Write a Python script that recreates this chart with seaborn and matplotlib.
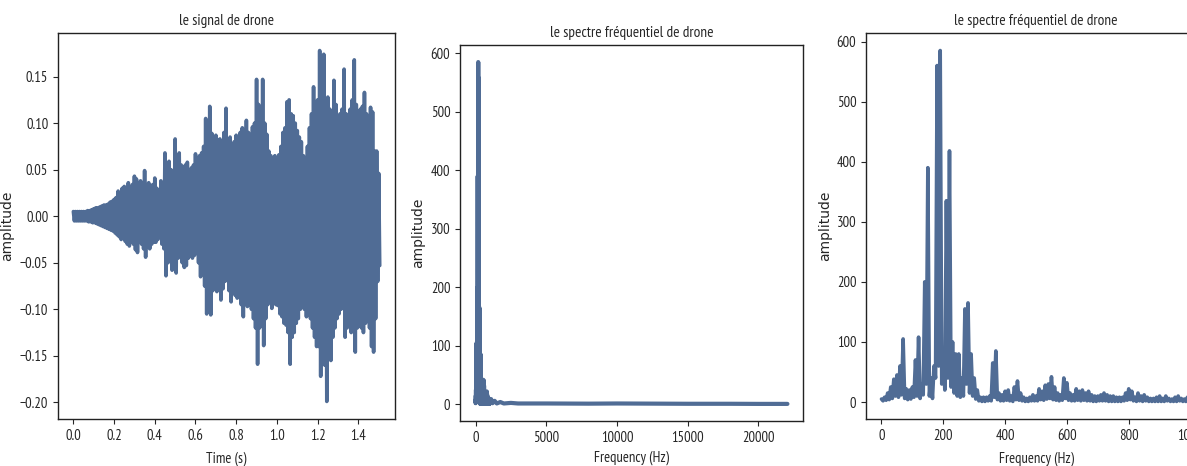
import numpy as np
import matplotlib
matplotlib.use("Agg")
import matplotlib.pyplot as plt
from matplotlib import font_manager
import seaborn as sns


# signal envelope, one value every 10 ms from 0.00 s to 1.50 s
signal_time = np.linspace(0.0, 1.5, 151)
signal_upper = [
    0.005, 0.005, 0.005, 0.005, 0.005, 0.005, 0.005, 0.006, 0.006, 0.007,
    0.008, 0.009, 0.009, 0.010, 0.011, 0.012, 0.012, 0.013, 0.015, 0.016,
    0.018, 0.020, 0.027, 0.024, 0.030, 0.032, 0.030, 0.036, 0.028, 0.034,
    0.043, 0.040, 0.030, 0.038, 0.025, 0.049, 0.033, 0.036, 0.030, 0.034,
    0.041, 0.030, 0.028, 0.038, 0.035, 0.068, 0.045, 0.059, 0.050, 0.044,
    0.083, 0.060, 0.068, 0.055, 0.050, 0.055, 0.058, 0.050, 0.052, 0.055,
    0.067, 0.060, 0.065, 0.068, 0.075, 0.105, 0.085, 0.118, 0.089, 0.080,
    0.087, 0.082, 0.083, 0.065, 0.090, 0.116, 0.078, 0.085, 0.070, 0.080,
    0.087, 0.082, 0.090, 0.095, 0.088, 0.103, 0.090, 0.085, 0.096, 0.100,
    0.147, 0.120, 0.090, 0.147, 0.100, 0.088, 0.070, 0.065, 0.060, 0.065,
    0.062, 0.066, 0.075, 0.090, 0.095, 0.123, 0.125, 0.110, 0.108, 0.100,
    0.092, 0.085, 0.080, 0.065, 0.046, 0.075, 0.095, 0.110, 0.139, 0.120,
    0.125, 0.178, 0.130, 0.174, 0.120, 0.128, 0.115, 0.110, 0.146, 0.120,
    0.090, 0.110, 0.115, 0.158, 0.110, 0.070, 0.115, 0.125, 0.168, 0.120,
    0.105, 0.115, 0.118, 0.133, 0.110, 0.095, 0.117, 0.112, 0.070, 0.070,
    0.046,
]
signal_lower = [
    -0.005, -0.005, -0.005, -0.005, -0.005, -0.005, -0.005, -0.006, -0.006, -0.007,
    -0.007, -0.008, -0.009, -0.010, -0.011, -0.012, -0.013, -0.014, -0.015, -0.016,
    -0.018, -0.020, -0.022, -0.025, -0.022, -0.027, -0.030, -0.032, -0.026, -0.030,
    -0.036, -0.039, -0.028, -0.030, -0.035, -0.044, -0.030, -0.035, -0.030, -0.028,
    -0.028, -0.025, -0.022, -0.030, -0.035, -0.064, -0.050, -0.045, -0.058, -0.048,
    -0.061, -0.045, -0.040, -0.050, -0.055, -0.053, -0.045, -0.040, -0.045, -0.042,
    -0.036, -0.050, -0.065, -0.060, -0.075, -0.105, -0.085, -0.106, -0.080, -0.075,
    -0.081, -0.075, -0.090, -0.078, -0.070, -0.068, -0.080, -0.092, -0.080, -0.085,
    -0.088, -0.080, -0.095, -0.108, -0.090, -0.097, -0.095, -0.100, -0.110, -0.120,
    -0.159, -0.120, -0.100, -0.139, -0.110, -0.095, -0.090, -0.099, -0.085, -0.095,
    -0.096, -0.105, -0.108, -0.115, -0.117, -0.125, -0.159, -0.130, -0.125, -0.115,
    -0.110, -0.100, -0.090, -0.100, -0.108, -0.105, -0.110, -0.120, -0.130, -0.140,
    -0.140, -0.172, -0.140, -0.160, -0.199, -0.145, -0.155, -0.130, -0.120, -0.110,
    -0.105, -0.100, -0.095, -0.130, -0.120, -0.110, -0.125, -0.118, -0.146, -0.120,
    -0.110, -0.120, -0.125, -0.115, -0.100, -0.120, -0.140, -0.146, -0.110, -0.070,
    -0.053,
]

# spectrum 0-1000 Hz: peaks every 10 Hz, troughs in between
spec_freq = np.linspace(0, 1000, 101)
spec_peak = [
    5, 8, 15, 25, 38, 45, 60, 105, 22, 20,
    25, 70, 108, 30, 200, 390, 40, 60, 560, 585,
    85, 335, 418, 100, 80, 80, 40, 155, 165, 80,
    40, 20, 8, 8, 8, 10, 65, 85, 15, 12,
    18, 20, 10, 25, 35, 15, 8, 6, 8, 12,
    10, 22, 18, 28, 30, 42, 25, 15, 12, 40,
    32, 15, 12, 22, 18, 20, 15, 18, 12, 10,
    10, 12, 15, 12, 10, 10, 8, 8, 8, 15,
    22, 18, 8, 15, 10, 12, 8, 6, 6, 8,
    10, 6, 10, 6, 5, 8, 10, 6, 5, 8,
    5,
]
spec_trough = [
    2, 3, 4, 6, 10, 8, 12, 6, 4, 5,
    8, 10, 6, 12, 30, 10, 6, 40, 60, 30,
    20, 40, 25, 15, 10, 8, 10, 30, 15, 10,
    5, 2, 1, 1, 2, 2, 8, 4, 2, 2,
    3, 2, 1, 4, 3, 2, 1, 1, 2, 2,
    2, 4, 3, 5, 6, 4, 3, 2, 3, 6,
    3, 2, 2, 3, 2, 3, 2, 2, 1, 1,
    2, 2, 2, 1, 1, 1, 1, 1, 2, 3,
    4, 2, 1, 2, 1, 2, 1, 1, 1, 1,
    1, 1, 2, 1, 1, 1, 2, 1, 1, 1,
]

# spectrum tail above 1000 Hz, up to the Nyquist frequency
tail_freq = [1100, 1200, 1350, 1500, 1750, 2000, 2500, 3000, 5000, 8000, 10000, 12500, 15000, 18000, 20000, 22050]
tail_amp = [9, 2, 6, 1.5, 4, 1.5, 2.5, 1.5, 1.5, 1.2, 1.5, 1.2, 1.0, 1.0, 0.8, 0.8]

LINE_COLOR = "#506c95"


def pick_narrow_font():
    names = {f.name for f in font_manager.fontManager.ttflist}
    for name in ["Liberation Sans Narrow", "Arial Narrow", "PT Sans Narrow",
                 "Roboto Condensed", "Open Sans Condensed", "Archivo Narrow",
                 "Encode Sans Condensed", "Fira Sans Condensed", "IBM Plex Sans Condensed",
                 "Pragati Narrow", "Liberation Sans"]:
        if name in names:
            return name
    return "DejaVu Sans"


def zigzag(x_top, y_top, x_bot, y_bot):
    xs, ys = [], []
    for i in range(len(x_top)):
        xs.append(x_top[i])
        ys.append(y_top[i])
        if i < len(x_bot):
            xs.append(x_bot[i])
            ys.append(y_bot[i])
    return np.array(xs), np.array(ys)


def draw(ax, x, y, lw=2.6):
    sns.lineplot(x=x, y=y, ax=ax, color=LINE_COLOR, linewidth=lw,
                 estimator=None, sort=False)
    for line in ax.get_lines():
        line.set_solid_joinstyle("round")
        line.set_solid_capstyle("round")


def main():
    sns.set_style("ticks")
    narrow = pick_narrow_font()
    plt.rcParams["font.family"] = [narrow, "DejaVu Sans"]
    plt.rcParams["xtick.major.size"] = 3.5
    plt.rcParams["ytick.major.size"] = 3.5
    plt.rcParams["axes.edgecolor"] = "#222222"
    plt.rcParams["axes.linewidth"] = 1.0

    fig = plt.figure(figsize=(11.87, 4.66), dpi=100)
    ax1 = fig.add_axes([0.0489, 0.1009, 0.2839, 0.8283])
    ax2 = fig.add_axes([0.3875, 0.0966, 0.2890, 0.8069])
    ax3 = fig.add_axes([0.7296, 0.1009, 0.2864, 0.8283])

    # time signal
    sx, sy = zigzag(signal_time, signal_upper, signal_time + 0.005, signal_lower)
    draw(ax1, sx, sy)
    ax1.set_title("le signal de drone", fontsize=11)
    ax1.set_xlabel("Time (s)", fontsize=10.5, labelpad=6)
    ax1.set_xticks([0.0, 0.2, 0.4, 0.6, 0.8, 1.0, 1.2, 1.4])
    ax1.set_yticks([-0.20, -0.15, -0.10, -0.05, 0.00, 0.05, 0.10, 0.15])

    # spectra
    fx, fy = zigzag(spec_freq, spec_peak, spec_freq[:-1] + 5, spec_trough)
    full_x = np.concatenate([fx, tail_freq])
    full_y = np.concatenate([fy, tail_amp])
    draw(ax2, full_x, full_y, lw=3.0)
    ax2.set_title("le spectre fréquentiel de drone", fontsize=11)
    ax2.set_xlabel("Frequency (Hz)", fontsize=10.5, labelpad=4)
    ax2.set_xticks([0, 5000, 10000, 15000, 20000])

    draw(ax3, fx, fy)
    ax3.set_title("le spectre fréquentiel de drone", fontsize=11)
    ax3.set_xlabel("Frequency (Hz)", fontsize=10.5, labelpad=6)
    ax3.set_xticks([0, 200, 400, 600, 800, 1000])

    for ax, lx in ((ax1, -0.13), (ax2, -0.102), (ax3, -0.10)):
        ax.set_ylabel("amplitude", fontsize=10, family="DejaVu Sans")
        ax.yaxis.set_label_coords(lx, 0.5)
        ax.tick_params(labelsize=10.5)
        for s in ax.spines.values():
            s.set_visible(True)

    fig.savefig("out.png", dpi=100)


if __name__ == "__main__":
    main()
